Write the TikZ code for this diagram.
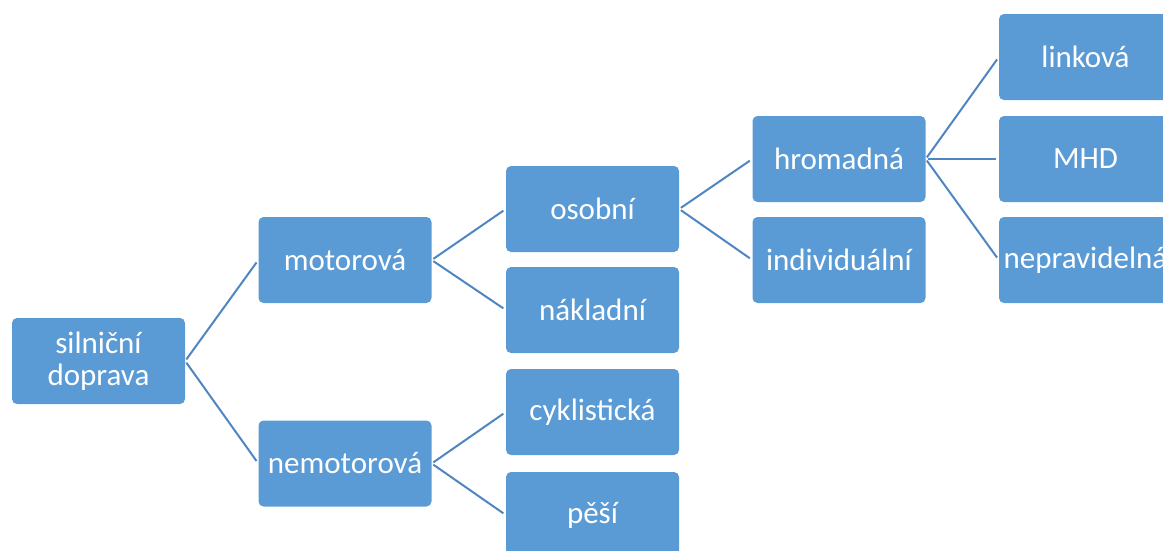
\documentclass[tikz,border=0pt]{standalone}
\usepackage{fontspec}
\setmainfont{Carlito}
\definecolor{boxblue}{HTML}{5B9BD5}
\definecolor{lineblue}{HTML}{4F86C2}
\tikzset{
  box/.style={rectangle,rounded corners=5pt,fill=boxblue,text=white,
    minimum width=173pt,minimum height=86pt,inner sep=0pt,align=center,
    font=\fontsize{31}{32}\selectfont},
  link/.style={draw=lineblue,line width=2pt,shorten <=2pt,shorten >=3pt}
}
\begin{document}
\begin{tikzpicture}[x=1pt,y=-1pt]
\useasboundingbox (0,0) rectangle (1163,550);
\clip (0,0) rectangle (1163,550);
\node[box] (sd) at (98.5,361) {silniční\\doprava};
\node[box] (mo) at (345,260) {motorová};
\node[box] (ne) at (345,463.5) {nemotorová};
\node[box] (os) at (592.5,209) {osobní};
\node[box] (na) at (592.5,310) {nákladní};
\node[box] (cy) at (592.5,412) {cyklistická};
\node[box] (pe) at (592.5,515) {pěší};
\node[box] (hr) at (839,159) {hromadná};
\node[box] (in) at (839,260) {individuální};
\node[box] (li) at (1085.5,57) {linková};
\node[box] (mh) at (1085.5,159) {MHD};
\node[box] (np) at (1085.5,260) {nepravidelná};
\foreach \p/\c in {sd/mo,sd/ne,mo/os,mo/na,ne/cy,ne/pe,os/hr,os/in,hr/li,hr/mh,hr/np}
{ \draw[link] (\p.east) -- (\c.west);};
\end{tikzpicture}
\end{document}
